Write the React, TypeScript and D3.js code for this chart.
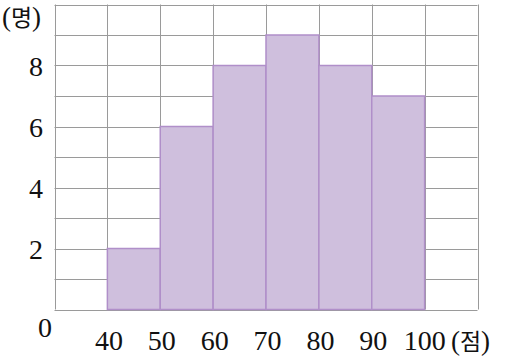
import React from "react";
import * as d3 from "d3";

const binStarts = [40, 50, 60, 70, 80, 90];
const counts = [2, 6, 8, 9, 8, 7];
const binWidth = 10;
const xTicks = [40, 50, 60, 70, 80, 90, 100];
const yTicks = [2, 4, 6, 8];
const xGrid = [30, 40, 50, 60, 70, 80, 90, 100, 110];
const yGrid = [0, 1, 2, 3, 4, 5, 6, 7, 8, 9, 10];

const W = 505;
const H = 357;
const serif = '"Liberation Serif"';
const kr = '"Noto Sans CJK KR"';

function Unit({ x, y, word, size }: { x: number; y: number; word: string; size: number }) {
  return (
    <text x={x} y={y} style={{ fontFamily: serif, fontSize: size }} fill="#111">
      (<tspan style={{ fontFamily: kr, fontSize: size * 0.85 }}>{word}</tspan>)
    </text>
  );
}

export default function App() {
  const x = d3.scaleLinear().domain([30, 110]).range([54.5, 477.5]);
  const y = d3.scaleLinear().domain([0, 10]).range([309.5, 4.5]);
  const lab = { fontFamily: serif, fontSize: 28, fontWeight: 400 as const };
  return (
    <svg width={W} height={H} style={{ position: "absolute", left: 0, top: 0, background: "#fff" }}>
      {yGrid.map((v) => (
        <line key={"h" + v} x1={x(30)} x2={x(110)} y1={Math.round(y(v)) + 0.5} y2={Math.round(y(v)) + 0.5} stroke="#9a9a9a" strokeWidth={1} />
      ))}
      {xGrid.map((v) => (
        <line key={"v" + v} x1={Math.round(x(v)) + 0.5} x2={Math.round(x(v)) + 0.5} y1={y(0)} y2={y(10)} stroke="#9a9a9a" strokeWidth={1} />
      ))}
      {binStarts.map((b, i) => (
        <rect
          key={"b" + b}
          x={x(b)}
          y={y(counts[i])}
          width={x(b + binWidth) - x(b)}
          height={y(0) - y(counts[i])}
          fill="#cfbfdd"
          stroke="#b08fc9"
          strokeWidth={1.5}
        />
      ))}
      {yTicks.map((v) => (
        <text key={"yl" + v} x={43} y={y(v) + 10} textAnchor="end" style={lab} fill="#111">
          {String(v)}
        </text>
      ))}
      <text x={45} y={337} textAnchor="middle" style={lab} fill="#111">0</text>
      {xTicks.map((v) => (
        <text key={"xl" + v} x={x(v) + (v === 100 ? 0 : 1.5)} y={350} textAnchor="middle" style={lab} fill="#111">
          {String(v)}
        </text>
      ))}
      <Unit x={451} y={350} word="점" size={27} />
      <Unit x={2} y={26} word="명" size={27} />
    </svg>
  );
}
